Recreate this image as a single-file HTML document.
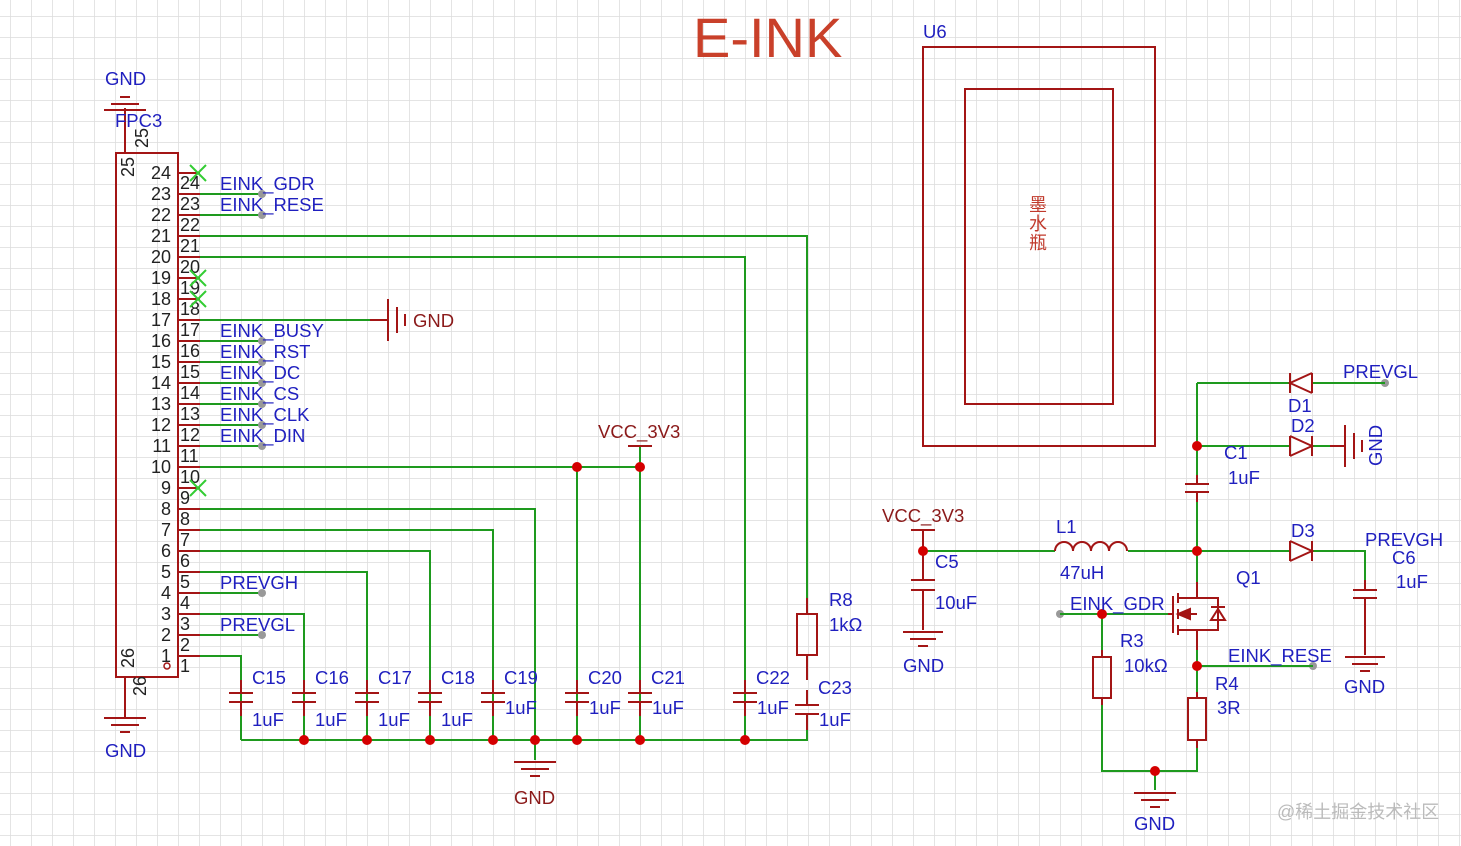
<!DOCTYPE html>
<html><head><meta charset="utf-8"><style>
html,body{margin:0;padding:0;background:#fff;}
svg{display:block;font-family:"Liberation Sans","Noto Sans CJK SC",sans-serif;}
.r{stroke:#a31515;stroke-width:2;fill:none}
.g{stroke:#1e9a1e;stroke-width:2;fill:none}
.b{fill:#1f1fbf;font-size:18.5px}
.d{fill:#8b1a1a;font-size:18.5px}
.k{fill:#222;font-size:18px}
</style></head><body>
<svg width="1461" height="846" viewBox="0 0 1461 846" xmlns="http://www.w3.org/2000/svg">
<defs>
<pattern id="grid" x="10" y="16" width="21" height="21" patternUnits="userSpaceOnUse">
<path d="M0 0V21M0 0H21" stroke="#dcdcdc" stroke-width="1.5" fill="none"/>
</pattern>
</defs>
<rect width="1461" height="846" fill="url(#grid)"/>
<text x="693" y="57" font-size="56" fill="#c9402a">E-INK</text>

<rect x="116" y="153" width="62" height="524" class="r"/>
<line x1="125" y1="108" x2="125" y2="153" class="r"/>
<line x1="125" y1="677" x2="125" y2="718" class="r"/>
<line x1="104" y1="110" x2="146" y2="110" class="r"/><line x1="111" y1="104" x2="139" y2="104" class="r"/><line x1="120" y1="97" x2="130" y2="97" class="r"/>
<text x="105" y="85" class="b">GND</text>
<text x="115" y="127" class="b">FPC3</text>
<text x="0" y="0" class="k" transform="translate(148,148) rotate(-90)">25</text>
<text x="0" y="0" class="k" transform="translate(134,177) rotate(-90)">25</text>
<text x="0" y="0" class="k" transform="translate(134,668) rotate(-90)">26</text>
<text x="0" y="0" class="k" transform="translate(146,696) rotate(-90)">26</text>
<line x1="104" y1="718" x2="146" y2="718" class="r"/><line x1="111" y1="725" x2="139" y2="725" class="r"/><line x1="120" y1="732" x2="130" y2="732" class="r"/>
<text x="105" y="757" class="b">GND</text>
<circle cx="167" cy="666" r="3" fill="none" stroke="#a31515" stroke-width="1.5"/>

<g class="k" text-anchor="end">
<text x="171" y="179">24</text><text x="171" y="200">23</text><text x="171" y="221">22</text><text x="171" y="242">21</text><text x="171" y="263">20</text><text x="171" y="284">19</text><text x="171" y="305">18</text><text x="171" y="326">17</text><text x="171" y="347">16</text><text x="171" y="368">15</text><text x="171" y="389">14</text><text x="171" y="410">13</text><text x="171" y="431">12</text><text x="171" y="452">11</text><text x="171" y="473">10</text><text x="171" y="494">9</text><text x="171" y="515">8</text><text x="171" y="536">7</text><text x="171" y="557">6</text><text x="171" y="578">5</text><text x="171" y="599">4</text><text x="171" y="620">3</text><text x="171" y="641">2</text><text x="171" y="662">1</text>
</g>
<g class="k">
<text x="180" y="189">24</text><text x="180" y="210">23</text><text x="180" y="231">22</text><text x="180" y="252">21</text><text x="180" y="273">20</text><text x="180" y="294">19</text><text x="180" y="315">18</text><text x="180" y="336">17</text><text x="180" y="357">16</text><text x="180" y="378">15</text><text x="180" y="399">14</text><text x="180" y="420">13</text><text x="180" y="441">12</text><text x="180" y="462">11</text><text x="180" y="483">10</text><text x="180" y="504">9</text><text x="180" y="525">8</text><text x="180" y="546">7</text><text x="180" y="567">6</text><text x="180" y="588">5</text><text x="180" y="609">4</text><text x="180" y="630">3</text><text x="180" y="651">2</text><text x="180" y="672">1</text>
</g>
<path class="r" d="M178 173h22M178 194h22M178 215h22M178 236h22M178 257h22M178 278h22M178 299h22M178 320h22M178 341h22M178 362h22M178 383h22M178 404h22M178 425h22M178 446h22M178 467h22M178 488h22M178 509h22M178 530h22M178 551h22M178 572h22M178 593h22M178 614h22M178 635h22M178 656h22"/>
<path stroke="#33cc33" stroke-width="2" d="M190 165l16 16M206 165l-16 16M190 270l16 16M206 270l-16 16M190 291l16 16M206 291l-16 16M190 480l16 16M206 480l-16 16"/>

<path class="g" d="M200 194H262M200 215H262M200 236H807V598M200 257H745V740M200 320H370M200 341H262M200 362H262M200 383H262M200 404H262M200 425H262M200 446H262M200 467H640V446M577 467V740M640 467V740M200 509H535V760M200 530H493V740M200 551H430V740M200 572H367V740M200 593H262M200 614H304V740M200 635H262M200 656H241V740M241 740H807V716"/>
<g fill="#999"><circle cx="262" cy="194" r="4"/><circle cx="262" cy="215" r="4"/><circle cx="262" cy="341" r="4"/><circle cx="262" cy="362" r="4"/><circle cx="262" cy="383" r="4"/><circle cx="262" cy="404" r="4"/><circle cx="262" cy="425" r="4"/><circle cx="262" cy="446" r="4"/><circle cx="262" cy="593" r="4"/><circle cx="262" cy="635" r="4"/><circle cx="1060" cy="614" r="4"/><circle cx="1313" cy="666" r="4"/><circle cx="1385" cy="383" r="4"/></g>
<g class="b">
<text x="220" y="190">EINK_GDR</text><text x="220" y="211">EINK_RESE</text>
<text x="220" y="337">EINK_BUSY</text><text x="220" y="358">EINK_RST</text><text x="220" y="379">EINK_DC</text><text x="220" y="400">EINK_CS</text><text x="220" y="421">EINK_CLK</text><text x="220" y="442">EINK_DIN</text>
<text x="220" y="589">PREVGH</text><text x="220" y="631">PREVGL</text>
</g>
<path class="r" d="M370 320H388M388 299V341M397 307V333M405 314V326"/>
<text x="413" y="327" class="d">GND</text>
<path class="r" d="M628 446H652"/>
<text x="598" y="438" class="d">VCC_3V3</text>

<g class="r">
<path d="M241 680V693M229 693h24M229 702h24M241 702V716"/>
<path d="M304 680V693M292 693h24M292 702h24M304 702V716"/>
<path d="M367 680V693M355 693h24M355 702h24M367 702V716"/>
<path d="M430 680V693M418 693h24M418 702h24M430 702V716"/>
<path d="M493 680V693M481 693h24M481 702h24M493 702V716"/>
<path d="M577 680V693M565 693h24M565 702h24M577 702V716"/>
<path d="M640 680V693M628 693h24M628 702h24M640 702V716"/>
<path d="M745 680V693M733 693h24M733 702h24M745 702V716"/>
<path d="M807 690V705M795 705h24M795 714h24M807 714V730"/>
<path d="M807 598V614M797 614h20v41h-20zM807 655V680"/>
</g>
<g class="b">
<text x="252" y="684">C15</text><text x="252" y="726">1uF</text>
<text x="315" y="684">C16</text><text x="315" y="726">1uF</text>
<text x="378" y="684">C17</text><text x="378" y="726">1uF</text>
<text x="441" y="684">C18</text><text x="441" y="726">1uF</text>
<text x="504" y="684">C19</text><text x="505" y="714">1uF</text>
<text x="588" y="684">C20</text><text x="589" y="714">1uF</text>
<text x="651" y="684">C21</text><text x="652" y="714">1uF</text>
<text x="756" y="684">C22</text><text x="757" y="714">1uF</text>
<text x="818" y="694">C23</text><text x="819" y="726">1uF</text>
<text x="829" y="606">R8</text><text x="829" y="631">1kΩ</text>
</g>
<g fill="#d40000"><circle cx="304" cy="740" r="5"/><circle cx="367" cy="740" r="5"/><circle cx="430" cy="740" r="5"/><circle cx="493" cy="740" r="5"/><circle cx="535" cy="740" r="5"/><circle cx="577" cy="740" r="5"/><circle cx="640" cy="740" r="5"/><circle cx="745" cy="740" r="5"/><circle cx="577" cy="467" r="5"/><circle cx="640" cy="467" r="5"/></g>
<path class="r" d="M514 762H556M521 769H549M530 776H540"/>
<text x="514" y="804" class="d">GND</text>

<rect x="923" y="47" width="232" height="399" class="r"/>
<rect x="965" y="89" width="148" height="315" class="r"/>
<text x="923" y="38" class="b">U6</text>
<g fill="#c0392b" font-size="18" text-anchor="middle"><text x="1038" y="211">墨</text><text x="1038" y="230">水</text><text x="1038" y="249">瓶</text></g>

<path class="g" d="M923 551H1055M1128 551H1290M1312 551H1365V580M1197 383H1290M1312 383H1385M1197 383V475M1197 446H1290M1312 446H1330M1197 502V551M1197 551V582M1060 614H1168M1102 614V650M1197 650V692M1197 666H1313M1102 705V771H1197V748M1155 771V790"/>
<g class="r">
<path d="M911 530H935M923 530V551M923 551V580M911 580h24M911 590h24M923 590V630M903 632h40M910 639h26M918 646h10"/>
<path d="M1055 551a9 9 0 0 1 18 0a9 9 0 0 1 18 0a9 9 0 0 1 18 0a9 9 0 0 1 18 0"/>
<path d="M1185 484h24M1185 492h24M1197 475V484M1197 492V502"/>
<path d="M1290 541V561M1290 541L1312 551L1290 561M1312 541V561"/>
<path d="M1312 373V393M1312 373L1290 383L1312 393M1290 373V393"/>
<path d="M1290 436V456M1290 436L1312 446L1290 456M1312 436V456"/>
<path d="M1330 446H1345M1345 425V467M1354 433V459M1362 440V452"/>
<path d="M1353 590h24M1353 598h24M1365 580V590M1365 598V655M1345 657h40M1352 664h26M1360 671h10"/>
<path d="M1102 650V657M1093 657h18v41h-18zM1102 698V705"/>
<path d="M1197 692V698M1188 698h18v42h-18zM1197 740V748"/>
<path d="M1134 793h42M1141 800h28M1150 807h10"/>
<path d="M1197 582V598H1178M1178 593V603M1178 609V619M1178 625V635M1173 596V633M1168 614H1173M1178 614H1197M1178 630H1197V650M1197 598H1218V630H1197"/>
<path d="M1178 614L1190 609V619Z" fill="#a31515"/>
<path d="M1211 607h14M1218 609L1211 620H1225Z"/>
</g>
<g fill="#d40000"><circle cx="923" cy="551" r="5"/><circle cx="1197" cy="551" r="5"/><circle cx="1197" cy="446" r="5"/><circle cx="1102" cy="614" r="5"/><circle cx="1197" cy="666" r="5"/><circle cx="1155" cy="771" r="5"/></g>
<text x="882" y="522" class="d">VCC_3V3</text>
<g class="b">
<text x="935" y="568">C5</text><text x="935" y="609">10uF</text>
<text x="903" y="672">GND</text>
<text x="1056" y="533">L1</text><text x="1060" y="579">47uH</text>
<text x="1070" y="610">EINK_GDR</text>
<text x="1120" y="647">R3</text><text x="1124" y="672">10kΩ</text>
<text x="1236" y="584">Q1</text>
<text x="1228" y="662">EINK_RESE</text>
<text x="1215" y="690">R4</text><text x="1217" y="714">3R</text>
<text x="1134" y="830">GND</text>
<text x="1224" y="459">C1</text><text x="1228" y="484">1uF</text>
<text x="1288" y="412">D1</text><text x="1291" y="432">D2</text><text x="1291" y="537">D3</text>
<text x="1343" y="378">PREVGL</text>
<text x="1365" y="546">PREVGH</text><text x="1392" y="564">C6</text><text x="1396" y="588">1uF</text>
<text x="1344" y="693">GND</text>
<text x="0" y="0" transform="translate(1382,466) rotate(-90)">GND</text>
</g>
<text x="1277" y="818" font-size="18" fill="#bbb">@稀土掘金技术社区</text>
</svg>
</body></html>
